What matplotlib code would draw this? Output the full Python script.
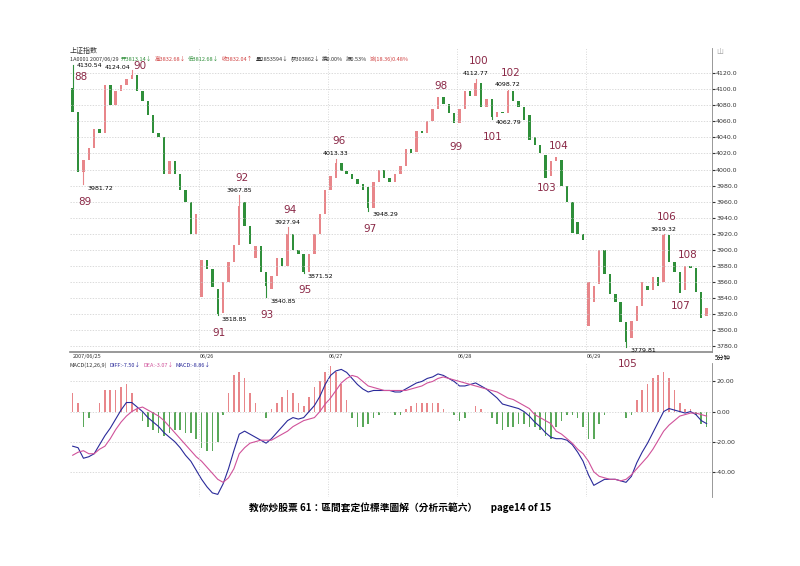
import matplotlib.pyplot as plt

plt.rcParams['font.family'] = ['Noto Sans CJK SC', 'DejaVu Sans']

# 5-minute bars, 2007/06/25 - 06/29 (sampled)
opens = [4102, 4072, 3997, 4012, 4027, 4050, 4045, 4105, 4080, 4098, 4105, 4112,
         4118, 4098, 4085, 4068, 4045, 4040, 3995, 4010, 3995, 3975, 3960, 3920,
         3842, 3888, 3876, 3852, 3822, 3860, 3885, 3906, 3960, 3930, 3890, 3905,
         3872, 3852, 3868, 3890, 3880, 3920, 3900, 3895, 3872, 3895, 3920, 3945,
         3975, 3990, 4008, 3998, 3995, 3988, 3982, 3978, 3952, 3984, 4000, 3990,
         3985, 3995, 4005, 4025, 4022, 4048, 4045, 4060, 4075, 4090, 4082, 4070,
         4058, 4075, 4098, 4092, 4108, 4078, 4088, 4065, 4072, 4070, 4098, 4085,
         4078, 4068, 4040, 4030, 4018, 3992, 4010, 4012, 3980, 3960, 3935, 3920,
         3805, 3835, 3858, 3900, 3870, 3845, 3835, 3810, 3790, 3812, 3830, 3855,
         3850, 3866, 3860, 3918, 3885, 3872, 3850, 3880, 3878, 3848, 3818]
closes = [4072, 3997, 4012, 4027, 4050, 4045, 4105, 4080, 4098, 4105, 4112, 4118,
          4098, 4085, 4068, 4045, 4040, 3995, 4010, 3995, 3975, 3960, 3920, 3945,
          3888, 3876, 3854, 3820, 3860, 3885, 3906, 3955, 3930, 3908, 3905, 3872,
          3855, 3868, 3890, 3880, 3920, 3900, 3895, 3872, 3895, 3920, 3945, 3975,
          3992, 4008, 3998, 3995, 3988, 3982, 3975, 3952, 3984, 4000, 3990, 3985,
          3995, 4005, 4025, 4020, 4048, 4045, 4060, 4075, 4090, 4082, 4070, 4058,
          4075, 4098, 4092, 4108, 4078, 4088, 4065, 4072, 4070, 4098, 4085, 4078,
          4062, 4037, 4030, 4020, 3990, 4010, 4015, 3980, 3960, 3921, 3920, 3912,
          3860, 3855, 3900, 3870, 3845, 3835, 3810, 3785, 3812, 3830, 3860, 3850,
          3866, 3855, 3918, 3885, 3872, 3846, 3880, 3878, 3848, 3815, 3828]

diff = [-23, -24, -31, -30, -28, -22, -16, -11, -5, 1, 6, 6, 3, 0, -4, -7, -10, -14,
        -17, -20, -24, -29, -33, -39, -45, -50, -54, -55, -48, -38, -26, -15, -13,
        -15, -17, -19, -21, -18, -14, -10, -6, -4, -5, -4, 0, 4, 10, 18, 24, 27, 28,
        26, 22, 18, 15, 13, 14, 14, 14, 14, 13, 13, 15, 17, 19, 20, 22, 23, 25, 24,
        22, 20, 17, 17, 18, 19, 17, 15, 12, 9, 5, 4, 3, 2, 0, -3, -7, -10, -14, -17,
        -18, -18, -19, -22, -27, -33, -42, -49, -47, -45, -45, -45, -46, -47, -43,
        -34, -27, -21, -14, -7, 0, 2, 1, 0, -1, 0, -2, -6, -8]
dea = [-29, -27, -26, -28, -28, -25, -23, -18, -12, -7, -3, 0, 2, 3, 1, -1, -3, -6,
       -10, -14, -18, -22, -26, -30, -33, -37, -41, -45, -47, -44, -38, -28, -24,
       -21, -20, -19, -19, -19, -17, -15, -13, -10, -8, -6, -5, -4, 0, 5, 9, 14, 19,
       22, 24, 23, 20, 17, 16, 15, 14, 14, 14, 14, 14, 15, 16, 17, 19, 20, 22, 23,
       22, 21, 20, 19, 18, 17, 16, 15, 14, 13, 11, 9, 8, 6, 4, 2, -2, -4, -6, -8,
       -13, -15, -18, -21, -25, -28, -33, -40, -43, -44, -45, -45, -46, -45, -42,
       -38, -34, -30, -25, -19, -13, -9, -6, -3, -2, -1, -1, -2, -3]

# (bar, extreme price, price text, wave number, side)
marks = [(0, 4130.54, '4130.54', '88', 'right'), (2, 3981.72, '3981.72', '89', 'down'),
         (11, 4124.04, '4124.04', '90', 'left'), (27, 3818.85, '3818.85', '91', 'down'),
         (31, 3967.85, '3967.85', '92', 'up'), (36, 3840.85, '3840.85', '93', 'down'),
         (40, 3927.94, '3927.94', '94', 'up'), (43, 3871.52, '3871.52', '95', 'down'),
         (49, 4013.33, '4013.33', '96', 'up'), (55, 3948.29, '3948.29', '97', 'down'),
         (68, 4092, '', '98', 'up'), (71, 4040, '', '99', 'down'),
         (75, 4112.77, '4112.77', '100', 'up'), (78, 4062.79, '4062.79', '101', 'down'),
         (81, 4098.72, '4098.72', '102', 'up'), (88, 3988, '', '103', 'down'),
         (90, 4018, '', '104', 'up'), (103, 3779.81, '3779.81', '105', 'down'),
         (110, 3919.32, '3919.32', '106', 'up'), (113, 3842, '', '107', 'down'),
         (114, 3882, '', '108', 'up')]

price_ticks = [3780, 3800, 3820, 3840, 3860, 3880, 3900, 3920, 3940, 3960, 3980,
               4000, 4020, 4040, 4060, 4080, 4100, 4120]
day_starts = [24, 48, 72, 96]
day_labels = ['2007/06/25', '06/26', '06/27', '06/28', '06/29']

RED = '#e8868a'
GREEN = '#2f8f3a'
WAVE = '#8a2846'

fig = plt.figure(figsize=(8, 5.66), dpi=100)
ax2 = fig.add_axes([0.0875, 0.122, 0.8025, 0.236])
ax = fig.add_axes([0.0875, 0.378, 0.8025, 0.537])

n = len(closes)
for i in range(n):
    o, c = opens[i], closes[i]
    col = RED if c >= o else GREEN
    lo, hi = min(o, c), max(o, c)
    ax.bar(i, max(hi - lo, 0.8), 0.45, bottom=lo, color=col, linewidth=0)


def note(txt, i, p, off, ha, va, size, color='black'):
    ax.annotate(txt, (i, p), xytext=off, textcoords='offset points', ha=ha, va=va,
                fontsize=size, color=color, family='DejaVu Sans')


for i, p, txt, wave, side in marks:
    col = GREEN if closes[i] < opens[i] else RED
    if txt:
        end = min(opens[i], closes[i]) if side == 'down' else max(opens[i], closes[i])
        ax.plot([i, i], [end, p], color=col, lw=0.8)
    if side == 'up':
        if txt:
            note(txt, i, p, (0, 2), 'center', 'bottom', 4.5)
        note(wave, i, p, (2, 9 if txt else 3), 'center', 'bottom', 7.5, WAVE)
    elif side == 'down':
        if txt:
            note(txt, i, p, (3, -1), 'left', 'top', 4.5)
        note(wave, i, p, (1, -9 if txt else -3), 'center', 'top', 7.5, WAVE)
    elif side == 'right':
        note(txt, i, p, (3, -1), 'left', 'center', 4.5)
        note(wave, i, p, (1, -5), 'left', 'top', 7.5, WAVE)
    else:
        note(txt, i, p, (-1, 0), 'right', 'bottom', 4.5)
        note(wave, i, p, (1, -1), 'left', 'bottom', 7.5, WAVE)

ax.set_xlim(-0.5, 119)
ax.set_ylim(3773, 4151)
ax.set_yticks(price_ticks)
ax.set_yticklabels(['%.1f' % v for v in price_ticks], fontsize=4.5, family='DejaVu Sans')
ax.yaxis.tick_right()
ax.tick_params(axis='y', length=2, pad=1, colors='#333333')
ax.set_xticks([])
ax.grid(axis='y', color='#cccccc', linestyle=(0, (2, 2)), linewidth=0.5)
for d in day_starts:
    ax.axvline(d - 0.4, color='#cccccc', linestyle=(0, (1, 2)), linewidth=0.6)
for s in ['top', 'left']:
    ax.spines[s].set_visible(False)
ax.spines['right'].set_color('#888888')
ax.spines['bottom'].set_color('#888888')
ax.spines['right'].set_linewidth(0.6)
ax.spines['bottom'].set_linewidth(1.2)

# date strip
for k, lbl in enumerate(day_labels):
    xpos = 0 if k == 0 else day_starts[k - 1] - 0.4
    ax.annotate(lbl, (xpos, 0), xycoords=('data', 'axes fraction'), xytext=(0, -1.5),
                textcoords='offset points', ha='left', va='top', fontsize=4, color='#333333')
ax.annotate('5分钟', (1, 0), xycoords='axes fraction', xytext=(2, -1.5),
            textcoords='offset points', ha='left', va='top', fontsize=4.5)

hist = [2 * (d - e) for d, e in zip(diff, dea)]
xs = list(range(n))
ax2.bar(xs, hist, 0.3, color=[RED if h >= 0 else '#5aa85a' for h in hist], linewidth=0)
ax2.plot(xs, diff, color='#2a2a9a', lw=0.8)
ax2.plot(xs, dea, color='#d0529a', lw=0.8)
ax2.set_xlim(-0.5, 119)
ax2.set_ylim(-56.7, 32)
ax2.set_yticks([20, 0, -20, -40])
ax2.set_yticklabels(['20.00', '0.00', '-20.00', '-40.00'], fontsize=4.5, family='DejaVu Sans')
ax2.yaxis.tick_right()
ax2.tick_params(axis='y', length=2, pad=1, colors='#333333')
ax2.set_xticks([])
ax2.grid(axis='y', color='#cccccc', linestyle=(0, (2, 2)), linewidth=0.5)
for d in day_starts:
    ax2.axvline(d - 0.4, color='#cccccc', linestyle=(0, (1, 2)), linewidth=0.6)
for s in ['top', 'left', 'bottom']:
    ax2.spines[s].set_visible(False)
ax2.spines['right'].set_color('#888888')
ax2.spines['right'].set_linewidth(0.6)
ax.patch.set_alpha(0)

renderer = fig.canvas.get_renderer()
fig_w = fig.get_figwidth() * fig.dpi


def text_row(x, y, pieces, size):
    for t, col in pieces:
        txt = fig.text(x, y, t, fontsize=size, color=col)
        x = txt.get_window_extent(renderer).x1 / fig_w + 0.003


# headers
fig.text(0.0875, 0.906, '上证指数', fontsize=5, color='#333333')
text_row(0.0875, 0.893, [('1A0001 2007/06/29', '#333333'), ('开3813.14↓', GREEN),
                         ('高3832.68↓', '#d04040'), ('低3812.68↓', GREEN),
                         ('收3832.04↑', '#d04040'), ('量2853594↓', '#333333'),
                         ('额303862↓', '#333333'), ('换0.00%', '#333333'),
                         ('振0.53%', '#333333'), ('涨(18.36)0.48%', '#d04040')], 4.0)
fig.text(0.895, 0.905, '山', fontsize=5, color='#aaaaaa')
text_row(0.0875, 0.352, [('MACD(12,26,9)', '#333333'), ('DIFF:-7.50↓', '#2a2a9a'),
                         ('DEA:-3.07↓', '#d0529a'), ('MACD:-8.86↓', '#2a2a9a')], 4.0)

fig.text(0.5, 0.098, '教你炒股票 61：區間套定位標準圖解（分析示範六）      page14 of 15',
         ha='center', fontsize=7, fontweight='bold',
         family=['Noto Sans CJK TC', 'DejaVu Sans'])

fig.savefig('out.png', dpi=100)
